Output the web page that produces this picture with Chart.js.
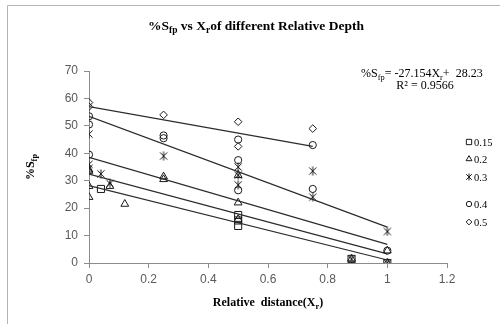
<!DOCTYPE html>
<html>
<head>
<meta charset="utf-8">
<script src="https://cdn.jsdelivr.net/npm/chart.js@4.4.0/dist/chart.umd.min.js"></script>
<style>
  html, body { margin: 0; padding: 0; background: #fff; }
  #wrap { position: relative; width: 500px; height: 324px; }
</style>
</head>
<body>
<div id="wrap"><canvas id="sfpChart" width="500" height="324"></canvas></div>
<script>
// relative depth series (legend labels)
var depths = ['0.15', '0.2', '0.3', '0.4', '0.5'];

var xSq = [0.04, 0.5, 0.5, 0.5, 0.88, 1];
var ySq = [27, 17.5, 15.5, 13.5, 1.5, 0];

var xTri = [0, 0, 0, 0, 0.07, 0.12, 0.25, 0.25, 0.5, 0.5, 0.5, 0.88, 1, 1];
var yTri = [34, 33.5, 28, 24, 28, 21.5, 31.5, 30.5, 32, 22, 16, 1.5, 4.5, 0];

var xStar = [0, 0, 0, 0.04, 0.07, 0.25, 0.5, 0.5, 0.5, 0.75, 0.75, 0.88, 1, 1];
var yStar = [47, 36, 34.5, 32.5, 29, 39, 35, 32, 28.5, 33.5, 24, 1.5, 11.5, 0];

var xCirc = [0, 0, 0, 0.25, 0.25, 0.5, 0.5, 0.5, 0.75, 0.75, 1];
var yCirc = [53.5, 50.5, 39.5, 46.5, 45.5, 45, 37.5, 26.5, 43, 27, 4.5];

var xDia = [0, 0, 0.25, 0.5, 0.5, 0.75];
var yDia = [58.5, 57, 54, 51.5, 42.5, 49];

// linear trend lines (start at x=0, end at trendEndX)
var trendStart = [28.23, 32.4, 38.5, 53.5, 57];
var trendEnd = [1.08, 3.3, 6.8, 13.1, 42.5];
var trendEndX = [1, 1, 1, 1, 0.75];

var xTicks = [0, 0.2, 0.4, 0.6, 0.8, 1, 1.2];
var yTicks = [0, 10, 20, 30, 40, 50, 60, 70];

function pts(xs, ys) {
    return xs.map(function (x, i) { return { x: x, y: ys[i] }; });
}

// excel style star marker: an x with a vertical bar
function starMarker(size) {
    var c = document.createElement('canvas');
    c.width = size;
    c.height = size;
    var g = c.getContext('2d');
    var h = size / 2, r = size / 2 - 0.5;
    g.strokeStyle = '#1a1a1a';
    g.lineWidth = 1;
    g.beginPath();
    g.moveTo(h - r * 0.8, h - r * 0.8); g.lineTo(h + r * 0.8, h + r * 0.8);
    g.moveTo(h + r * 0.8, h - r * 0.8); g.lineTo(h - r * 0.8, h + r * 0.8);
    g.moveTo(h, h - r); g.lineTo(h, h + r);
    g.stroke();
    return c;
}
var starBig = starMarker(10);
var starSmall = starMarker(8);

var styles = [
    { shape: 'rect', r: 5 },
    { shape: 'triangle', r: 4.5 },
    { shape: starBig, r: 5 },
    { shape: 'circle', r: 3.6 },
    { shape: 'rectRot', r: 3.8 }
];
var series = [pts(xSq, ySq), pts(xTri, yTri), pts(xStar, yStar), pts(xCirc, yCirc), pts(xDia, yDia)];

var datasets = [];
for (var i = 0; i < depths.length; i++) {
    datasets.push({
        label: 'trend ' + depths[i],
        type: 'line',
        data: [{ x: 0, y: trendStart[i] }, { x: trendEndX[i], y: trendEnd[i] }],
        borderColor: '#2b2b2b',
        borderWidth: 1.2,
        pointRadius: 0,
        fill: false
    });
}
for (var j = 0; j < depths.length; j++) {
    datasets.push({
        label: depths[j],
        data: series[j],
        pointStyle: styles[j].shape,
        pointRadius: styles[j].r,
        borderColor: '#1a1a1a',
        backgroundColor: 'rgba(255,255,255,0)',
        borderWidth: 1,
        showLine: false
    });
}

var serif = '"Liberation Serif", "Times New Roman", serif';

// text with subscripts: parts = [[text, isSub], ...]
function richWidth(ctx, parts, size, weight) {
    var w = 0;
    parts.forEach(function (p) {
        ctx.font = weight + ' ' + (p[1] ? size * 0.7 : size) + 'px ' + serif;
        w += ctx.measureText(p[0]).width;
    });
    return w;
}
function drawRich(ctx, parts, x, y, size, weight, align) {
    var w = richWidth(ctx, parts, size, weight);
    var cx = align === 'center' ? x - w / 2 : x;
    ctx.textAlign = 'left';
    ctx.textBaseline = 'alphabetic';
    parts.forEach(function (p) {
        ctx.font = weight + ' ' + (p[1] ? size * 0.7 : size) + 'px ' + serif;
        ctx.fillText(p[0], cx, p[1] ? y + size * 0.25 : y);
        cx += ctx.measureText(p[0]).width;
    });
}

var decorations = {
    id: 'decorations',
    afterDraw: function (chart) {
        var ctx = chart.ctx;
        ctx.save();
        // outer frame
        ctx.strokeStyle = '#b4b4b4';
        ctx.lineWidth = 1;
        ctx.beginPath();
        ctx.moveTo(7.5, 324);
        ctx.lineTo(7.5, 5.5);
        ctx.lineTo(500, 5.5);
        ctx.stroke();

        ctx.fillStyle = '#000';
        drawRich(ctx, [['%S', 0], ['fp', 1], [' vs X', 0], ['r', 1], ['of different Relative Depth', 0]],
            256, 30, 13.5, 'bold', 'center');

        var area = chart.chartArea;
        drawRich(ctx, [['Relative  distance(X', 0], ['r', 1], [')', 0]],
            (area.left + area.right) / 2, 306, 12, 'bold', 'center');

        ctx.save();
        ctx.translate(34, (area.top + area.bottom) / 2);
        ctx.rotate(-Math.PI / 2);
        drawRich(ctx, [['%S', 0], ['fp', 1]], 0, 0, 12, 'bold', 'center');
        ctx.restore();

        drawRich(ctx, [['%S', 0], ['fp', 1], ['= -27.154X', 0], ['r', 1], ['+  28.23', 0]],
            361, 77, 12, 'normal', 'left');
        drawRich(ctx, [['R\u00b2 = 0.9566', 0]], 425, 89, 12, 'normal', 'center');

        // legend
        var ly = [142, 159, 177, 204, 222];
        for (var k = 0; k < depths.length; k++) {
            ctx.fillStyle = 'rgba(255,255,255,0)';
            ctx.strokeStyle = '#1a1a1a';
            ctx.lineWidth = 1;
            Chart.helpers.drawPoint(ctx, {
                pointStyle: k === 2 ? starSmall : styles[k].shape,
                radius: styles[k].r * 0.75,
                borderWidth: 1
            }, 469, ly[k]);
            ctx.fillStyle = '#000';
            ctx.font = '10.5px ' + serif;
            ctx.textAlign = 'left';
            ctx.textBaseline = 'middle';
            ctx.fillText(depths[k], 474, ly[k] + 1);
        }
        ctx.restore();
    }
};

var axisColor = '#8c8c8c';
var tickFont = { family: '"Liberation Sans", Arial, sans-serif', size: 12 };

var ctx = document.getElementById('sfpChart').getContext('2d');
var sfpChart = new Chart(ctx, {
    type: 'scatter',
    data: { datasets: datasets },
    options: {
        responsive: false,
        animation: false,
        layout: { padding: { top: 71, right: 53, left: 0, bottom: 0 } },
        plugins: {
            legend: { display: false },
            title: { display: false },
            tooltip: { enabled: false }
        },
        scales: {
            x: {
                type: 'linear',
                min: 0,
                max: 1.2,
                afterBuildTicks: function (scale) {
                    scale.ticks = xTicks.map(function (v) { return { value: v }; });
                },
                afterFit: function (scale) { scale.height = 61; },
                ticks: {
                    color: '#595959',
                    font: tickFont,
                    padding: 4,
                    callback: function (v) { return String(v); }
                },
                grid: { display: true, drawOnChartArea: false, drawTicks: true, tickLength: 5, color: axisColor },
                border: { color: axisColor }
            },
            y: {
                type: 'linear',
                min: 0,
                max: 70,
                afterBuildTicks: function (scale) {
                    scale.ticks = yTicks.map(function (v) { return { value: v }; });
                },
                afterFit: function (scale) { scale.width = 89; },
                ticks: {
                    color: '#595959',
                    font: tickFont,
                    padding: 6
                },
                grid: { display: true, drawOnChartArea: false, drawTicks: true, tickLength: 5, color: axisColor },
                border: { color: axisColor }
            }
        }
    },
    plugins: [decorations]
});
</script>
</body>
</html>
